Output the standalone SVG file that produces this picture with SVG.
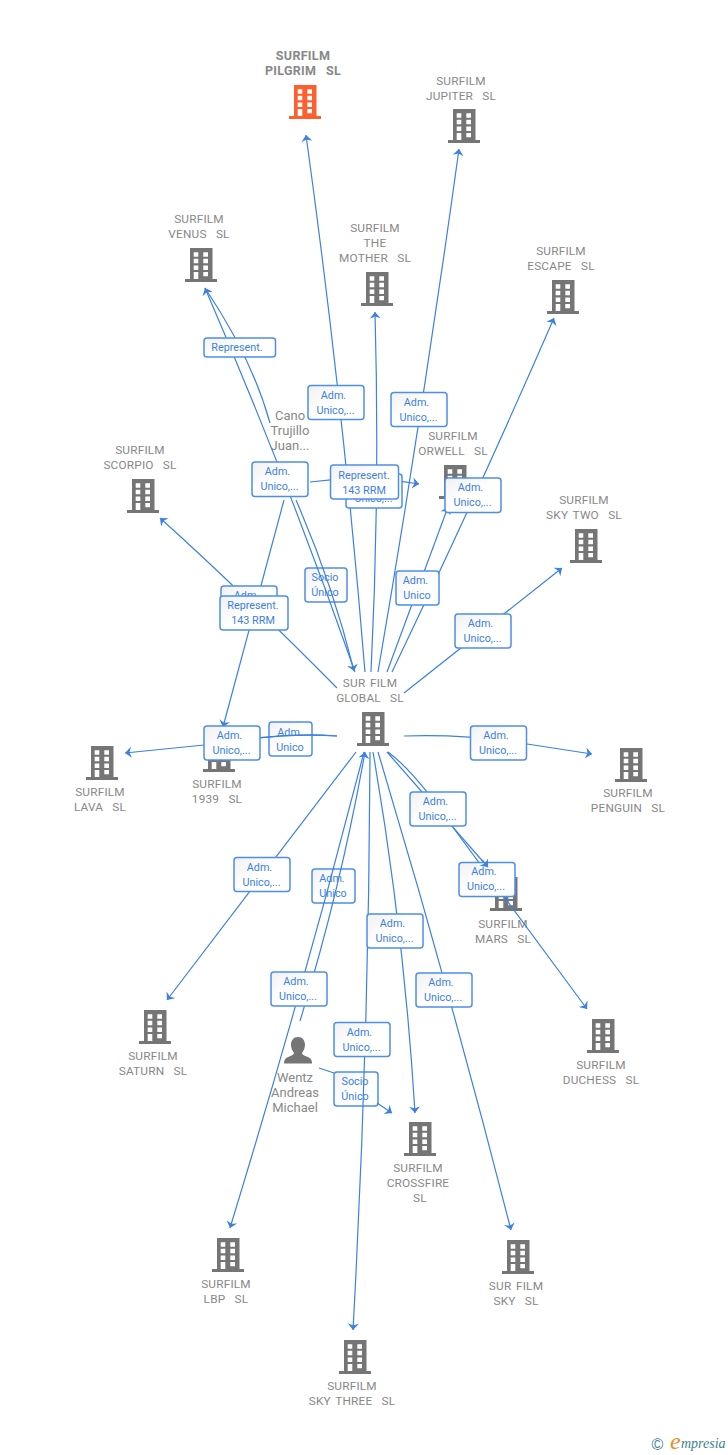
<svg xmlns="http://www.w3.org/2000/svg" width="728" height="1455" viewBox="0 0 728 1455">
<style>
.n text{font:11.8px Roboto,"Liberation Sans",sans-serif;fill:#888;text-anchor:middle;white-space:pre;letter-spacing:.2px;word-spacing:1.5px}
.n.p text{font-size:13px;letter-spacing:0;word-spacing:0}
.n text.b{font-weight:bold;font-size:12.5px;letter-spacing:.3px}
.c path{fill:none;stroke:#3b80e3;stroke-width:1.2}
.c path.a{marker-end:url(#ah)}
.l rect{fill:url(#lg);stroke:#4d8fe8;stroke-width:1.5}
.l text{font:10.8px Roboto,"Liberation Sans",sans-serif;fill:#3b80e3;text-anchor:middle}
</style>
<defs>
<linearGradient id="lg" x1="0" y1="0" x2="1" y2="1"><stop offset="0" stop-color="#f1f1f1"/><stop offset="0.5" stop-color="#fff"/></linearGradient>
<marker id="ah" markerUnits="userSpaceOnUse" viewBox="-9 -6 10 12" refX="0" refY="0" markerWidth="10" markerHeight="12" orient="auto"><path d="M0,0L-6.500,-5.500L-4.500,0L-6.500,5.500Z" fill="#3b80e3"/></marker>
<path id="bld" fill-rule="evenodd" d="M5,0H27.500V31H32V34H0V31H5ZM8.700,4.200V8.800H13.300V4.200ZM18.300,4.200V8.800H23V4.200ZM8.700,10.800V15.300H13.300V10.800ZM18.300,10.800V15.300H23V10.800ZM8.700,17.400V22H13.300V17.400ZM18.300,17.400V22H23V17.400ZM8.700,24V31H13.300V24ZM18.300,24V28.300H23V24Z"/>
</defs>
<rect width="728" height="1455" fill="#fff"/>
<g id="n-pilgrim" class="n"><text class="b" x="303" y="60">SURFILM</text><text class="b" x="303" y="75">PILGRIM  SL</text><use href="#bld" x="289" y="85" fill="#ff5f2e"/></g>
<g id="n-jupiter" class="n"><text x="461" y="85">SURFILM</text><text x="461" y="100">JUPITER  SL</text><use href="#bld" x="448" y="109" fill="#757575"/></g>
<g id="n-venus" class="n"><text x="199" y="223">SURFILM</text><text x="199" y="238">VENUS  SL</text><use href="#bld" x="185" y="248" fill="#757575"/></g>
<g id="n-mother" class="n"><text x="375" y="232">SURFILM</text><text x="375" y="247">THE</text><text x="375" y="262">MOTHER  SL</text><use href="#bld" x="361" y="272" fill="#757575"/></g>
<g id="n-escape" class="n"><text x="561" y="255">SURFILM</text><text x="561" y="270">ESCAPE  SL</text><use href="#bld" x="547" y="280" fill="#757575"/></g>
<g id="n-scorpio" class="n"><text x="140" y="454">SURFILM</text><text x="140" y="469">SCORPIO  SL</text><use href="#bld" x="127" y="479" fill="#757575"/></g>
<g id="n-orwell" class="n"><text x="453" y="440">SURFILM</text><text x="453" y="455">ORWELL  SL</text><use href="#bld" x="439" y="465" fill="#757575"/></g>
<g id="n-skytwo" class="n"><text x="584" y="504">SURFILM</text><text x="584" y="519">SKY TWO  SL</text><use href="#bld" x="570" y="529" fill="#757575"/></g>
<g id="n-global" class="n"><text x="370" y="687">SUR FILM</text><text x="370" y="702">GLOBAL  SL</text><use href="#bld" x="357" y="712" fill="#757575"/></g>
<g id="n-lava" class="n"><text x="100" y="796">SURFILM</text><text x="100" y="811">LAVA  SL</text><use href="#bld" x="86" y="746" fill="#757575"/></g>
<g id="n-1939" class="n"><text x="217" y="788">SURFILM</text><text x="217" y="803">1939  SL</text><use href="#bld" x="203" y="738" fill="#757575"/></g>
<g id="n-penguin" class="n"><text x="628" y="797">SURFILM</text><text x="628" y="812">PENGUIN  SL</text><use href="#bld" x="615" y="748" fill="#757575"/></g>
<g id="n-mars" class="n"><text x="503" y="928">SURFILM</text><text x="503" y="943">MARS  SL</text><use href="#bld" x="490" y="877" fill="#757575"/></g>
<g id="n-duchess" class="n"><text x="601" y="1069">SURFILM</text><text x="601" y="1084">DUCHESS  SL</text><use href="#bld" x="587" y="1019" fill="#757575"/></g>
<g id="n-saturn" class="n"><text x="153" y="1060">SURFILM</text><text x="153" y="1075">SATURN  SL</text><use href="#bld" x="139" y="1010" fill="#757575"/></g>
<g id="n-crossfire" class="n"><text x="418" y="1172">SURFILM</text><text x="418" y="1187">CROSSFIRE</text><text x="420" y="1202">SL</text><use href="#bld" x="404" y="1122" fill="#757575"/></g>
<g id="n-lbp" class="n"><text x="226" y="1288">SURFILM</text><text x="226" y="1303">LBP  SL</text><use href="#bld" x="212" y="1238" fill="#757575"/></g>
<g id="n-sky" class="n"><text x="516" y="1290">SUR FILM</text><text x="516" y="1305">SKY  SL</text><use href="#bld" x="502" y="1240" fill="#757575"/></g>
<g id="n-skythree" class="n"><text x="352" y="1390">SURFILM</text><text x="352" y="1405">SKY THREE  SL</text><use href="#bld" x="339" y="1340" fill="#757575"/></g>
<g id="n-cano" class="n p"><text x="290" y="420">Cano</text><text x="290" y="435">Trujillo</text><text x="290" y="450">Juan...</text></g>
<g id="n-wentz" class="n p"><path d="M298,1037c4.500,0 7,3.500 7,8c0,3 -1.500,6 -3,8c0,2 4,3 7,4.500c2,1 3,3 3,6h-28c0,-3 1,-5 3,-6c3,-1.500 7,-2.500 7,-4.500c-1.500,-2 -3,-5 -3,-8c0,-4.500 2.500,-8 7,-8Z" fill="#757575"/><text x="295" y="1082">Wentz</text><text x="295" y="1097">Andreas</text><text x="295" y="1112">Michael</text></g>
<g id="labels-under" class="l">
<g><rect x="269" y="722" width="43" height="34" rx="3"/><text x="290" y="736">Adm.</text><text x="290" y="751">Unico</text></g>
<g><rect x="312" y="869" width="43" height="34" rx="3"/><text x="332" y="882">Adm.</text><text x="333" y="897">Unico</text></g>
<g><rect x="334" y="1072" width="44" height="34" rx="3"/><text x="355" y="1085">Socio</text><text x="355" y="1100">Único</text></g>
<g><rect x="305" y="568" width="42" height="34" rx="3"/><text x="325" y="581">Socio</text><text x="325" y="596">Único</text></g>
</g>
<g id="connectors" class="c">
<path class="a" d="M365,672Q343,402 306,135"/>
<path class="a" d="M378,672Q423,410 459,149"/>
<path class="a" d="M371,672Q380,492 375,312"/>
<path class="a" d="M392,672Q477,495 554,318"/>
<path class="a" d="M387,672L448,507"/>
<path class="a" d="M355,672Q288,480 205,288"/>
<path d="M270,423Q252,358 205,288"/>
<path class="a" d="M296,500Q333,585 354,671"/>
<path class="a" d="M310,482Q362,475 419,484"/>
<path class="a" d="M337,688Q240,590 160,518"/>
<path class="a" d="M284,500L223,727"/>
<path class="a" d="M337,736Q280,732 204,745L125,753"/>
<path d="M337,736Q300,733 260,738"/>
<path class="a" d="M404,736Q470,734 527,744L592,754"/>
<path class="a" d="M404,693L562,568"/>
<path d="M387,752L486,865"/>
<path class="a" d="M388,752Q415,772 452,826L587,1009"/>
<path class="a" d="M356,752L167,1000"/>
<path class="a" d="M364,752Q303,990 230,1228"/>
<path class="a" d="M300,1021Q341,887 365,752"/>
<path class="a" d="M370,752Q369,1040 353,1330"/>
<path class="a" d="M373,752Q404,931 415,1113"/>
<path class="a" d="M378,752Q450,991 511,1230"/>
<path d="M319,1068L334,1073"/>
<path class="a" d="M377,1103L392,1113"/>
</g>
<g id="labels" class="l">
<g><rect x="204" y="338" width="71.500" height="19" rx="3"/><text x="237" y="351">Represent.</text></g>
<g><rect x="308" y="385.500" width="56" height="34" rx="3"/><text x="333.500" y="399">Adm.</text><text x="335.500" y="414">Unico,...</text></g>
<g><rect x="391" y="392.500" width="56" height="34" rx="3"/><text x="416.500" y="406">Adm.</text><text x="418.500" y="421">Unico,...</text></g>
<g><rect x="252" y="462" width="56" height="34.500" rx="3"/><text x="277.500" y="475">Adm.</text><text x="279.500" y="490">Unico,...</text></g>
<g><rect x="346" y="474" width="56" height="34" rx="3"/><text x="371.500" y="487">Adm.</text><text x="373.500" y="502">Unico,...</text></g>
<g><rect x="330.500" y="465" width="68" height="34" rx="3"/><text x="364" y="479">Represent.</text><text x="364" y="494">143 RRM</text></g>
<g><rect x="445" y="478" width="56" height="34.500" rx="3"/><text x="470.500" y="491">Adm.</text><text x="472.500" y="506">Unico,...</text></g>
<g><rect x="396" y="571" width="43" height="34" rx="3"/><text x="415.500" y="584">Adm.</text><text x="417" y="599">Unico</text></g>
<g><rect x="455" y="614" width="56" height="34" rx="3"/><text x="480.500" y="627">Adm.</text><text x="482.500" y="642">Unico,...</text></g>
<g><rect x="221" y="586" width="56" height="34" rx="3"/><text x="246.500" y="599">Adm.</text></g>
<g><rect x="220" y="596" width="68" height="34" rx="3"/><text x="253" y="609">Represent.</text><text x="253" y="624">143 RRM</text></g>
<g><rect x="204" y="726" width="56" height="34" rx="3"/><text x="229.500" y="739">Adm.</text><text x="231.500" y="754">Unico,...</text></g>
<g><rect x="470.500" y="726" width="56" height="34" rx="3"/><text x="496" y="739">Adm.</text><text x="498" y="754">Unico,...</text></g>
<g><rect x="410" y="792" width="56" height="34" rx="3"/><text x="435.500" y="805">Adm.</text><text x="437.500" y="820">Unico,...</text></g>
<g><rect x="459" y="862.500" width="56" height="34" rx="3"/><text x="484" y="875">Adm.</text><text x="486" y="890">Unico,...</text></g>
<g><rect x="234" y="857.500" width="56" height="34" rx="3"/><text x="259.500" y="871">Adm.</text><text x="261.500" y="886">Unico,...</text></g>
<g><rect x="367" y="914" width="56" height="34" rx="3"/><text x="392.500" y="927">Adm.</text><text x="394.500" y="942">Unico,...</text></g>
<g><rect x="271" y="972" width="56" height="34" rx="3"/><text x="296" y="985">Adm.</text><text x="298" y="1000">Unico,...</text></g>
<g><rect x="416" y="973" width="56" height="34" rx="3"/><text x="441" y="986">Adm.</text><text x="443" y="1001">Unico,...</text></g>
<g><rect x="334" y="1022.500" width="56" height="34" rx="3"/><text x="359.500" y="1036">Adm.</text><text x="361.500" y="1051">Unico,...</text></g>
</g>
<g id="connector-top" class="c"><path class="a" d="M482,860L488,867"/></g>
<g id="logo"><text x="657.500" y="1449.500" font-family="Liberation Sans, sans-serif" font-size="16" text-anchor="middle" fill="#3d7f95">©</text><text x="670" y="1449" font-family="Liberation Serif, serif" font-style="italic" font-size="24" fill="#f08a24">e</text><text x="681" y="1448" font-family="Liberation Serif, serif" font-style="italic" font-size="14" fill="#3d7f95">mpresia</text></g>
</svg>
